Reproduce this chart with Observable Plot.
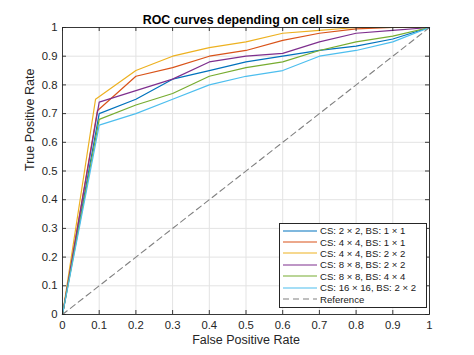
<!DOCTYPE html>
<html>
<head>
<meta charset="utf-8">
<script src="https://cdn.jsdelivr.net/npm/d3@7"></script>
<script src="https://cdn.jsdelivr.net/npm/@observablehq/plot@0.6"></script>
<style>
  html, body { margin: 0; padding: 0; background: #fff; }
  #wrap { position: relative; width: 474px; height: 355px; font-family: "Liberation Sans", Arial, sans-serif; }
  #legend { position: absolute; left: 279px; top: 223px; width: 148px; background: #fff; border: 1px solid #262626; box-sizing: border-box; padding: 1px 0 2px 0; }
  .row { display: flex; align-items: center; height: 11.4px; font-size: 9.6px; color: #1a1a1a; white-space: nowrap; }
  .row svg { margin-left: 3px; margin-right: 3px; }
</style>
</head>
<body>
<div id="wrap"></div>
<script>
// ---- data ----
const title = "ROC curves depending on cell size";
const xLabel = "False Positive Rate";
const yLabel = "True Positive Rate";
const fpr = [0, 0.1, 0.2, 0.3, 0.4, 0.5, 0.6, 0.7, 0.8, 0.9, 1];
const seriesNames = [
  "CS: 2 × 2, BS: 1 × 1",
  "CS: 4 × 4, BS: 1 × 1",
  "CS: 4 × 4, BS: 2 × 2",
  "CS: 8 × 8, BS: 2 × 2",
  "CS: 8 × 8, BS: 4 × 4",
  "CS: 16 × 16, BS: 2 × 2"
];
const seriesColors = ["#0072BD", "#D95319", "#EDB120", "#7E2F8E", "#77AC30", "#4DBEEE"];
const kneeFpr = [0.1, 0.095, 0.09, 0.1, 0.1, 0.1];
const tprCS2BS1   = [0, 0.70, 0.75, 0.82, 0.85, 0.88, 0.90, 0.92, 0.935, 0.96, 1];
const tprCS4BS1   = [0, 0.71, 0.83, 0.86, 0.90, 0.92, 0.955, 0.98, 0.995, 1, 1];
const tprCS4BS2   = [0, 0.75, 0.85, 0.90, 0.93, 0.95, 0.98, 0.99, 1, 1, 1];
const tprCS8BS2   = [0, 0.74, 0.78, 0.82, 0.88, 0.90, 0.91, 0.95, 0.98, 0.99, 1];
const tprCS8BS4   = [0, 0.68, 0.73, 0.77, 0.83, 0.86, 0.88, 0.92, 0.95, 0.97, 1];
const tprCS16BS2  = [0, 0.66, 0.70, 0.75, 0.80, 0.83, 0.85, 0.90, 0.92, 0.95, 1];
const referenceName = "Reference";
const refX = [0, 1];
const refY = [0, 1];
const xTicks = [0, 0.1, 0.2, 0.3, 0.4, 0.5, 0.6, 0.7, 0.8, 0.9, 1];
const yTicks = [0, 0.1, 0.2, 0.3, 0.4, 0.5, 0.6, 0.7, 0.8, 0.9, 1];

// ---- build table ----
const tprs = [tprCS2BS1, tprCS4BS1, tprCS4BS2, tprCS8BS2, tprCS8BS4, tprCS16BS2];
const rows = [];
tprs.forEach((t, s) => t.forEach((v, i) => rows.push({
  series: seriesNames[s], x: i === 1 ? kneeFpr[s] : fpr[i], y: v
})));
const refRows = refX.map((x, i) => ({x, y: refY[i]}));

const W = 474, H = 355, mL = 62, mR = 45, mT = 27, mB = 41;
const pw = W - mL - mR, ph = H - mT - mB;
const axisColor = "#262626";
const fmt = d => String(d);

const chart = Plot.plot({
  width: W, height: H,
  marginLeft: mL, marginRight: mR, marginTop: mT, marginBottom: mB,
  style: { fontFamily: "Liberation Sans, Arial, sans-serif", fontSize: "11px", color: axisColor, background: "#fff" },
  x: { domain: [0, 1], axis: null },
  y: { domain: [0, 1], axis: null },
  color: { domain: seriesNames, range: seriesColors },
  marks: [
    Plot.ruleX(xTicks, { x: d => d, stroke: "#e3e3e3", strokeWidth: 1 }),
    Plot.ruleY(yTicks, { y: d => d, stroke: "#e3e3e3", strokeWidth: 1 }),
    Plot.line(rows, { x: "x", y: "y", z: "series", stroke: "series", strokeWidth: 1.2 }),
    Plot.line(refRows, { x: "x", y: "y", stroke: "#808080", strokeWidth: 1.1, strokeDasharray: "6,4" }),
    Plot.frame({ stroke: axisColor, strokeWidth: 0.9 }),
    // inward ticks
    Plot.ruleX(xTicks, { x: d => d, insetTop: ph - 4, stroke: axisColor, strokeWidth: 0.9 }),
    Plot.ruleX(xTicks, { x: d => d, insetBottom: ph - 4, stroke: axisColor, strokeWidth: 0.9 }),
    Plot.ruleY(yTicks, { y: d => d, insetRight: pw - 4, stroke: axisColor, strokeWidth: 0.9 }),
    Plot.ruleY(yTicks, { y: d => d, insetLeft: pw - 4, stroke: axisColor, strokeWidth: 0.9 }),
    // tick labels
    Plot.text(xTicks, { x: d => d, frameAnchor: "bottom", dy: 14, text: fmt, fill: axisColor, fontSize: 11.3 }),
    Plot.text(yTicks, { y: d => d, frameAnchor: "left", dx: -5, textAnchor: "end", text: fmt, fill: axisColor, fontSize: 11.3 }),
    // axis labels & title
    Plot.text([xLabel], { frameAnchor: "bottom", dy: 29, text: d => d, fill: axisColor, fontSize: 12.5 }),
    Plot.text([yLabel], { frameAnchor: "left", dx: -33, rotate: -90, text: d => d, fill: axisColor, fontSize: 12.5 }),
    Plot.text([title], { frameAnchor: "top", dy: -12, text: d => d, fill: "#000", fontSize: 12.4, fontWeight: "bold" })
  ]
});

const wrap = document.getElementById("wrap");
wrap.appendChild(chart);

// legend
const legend = document.createElement("div");
legend.id = "legend";
const items = seriesNames.map((n, i) => ({ name: n, color: seriesColors[i], dash: null }))
  .concat([{ name: referenceName, color: "#808080", dash: "6,4" }]);
items.forEach(it => {
  const row = document.createElement("div");
  row.className = "row";
  row.innerHTML = `<svg width="34" height="4"><line x1="0" x2="34" y1="2" y2="2" stroke="${it.color}" stroke-width="1.2" ${it.dash ? `stroke-dasharray="${it.dash}"` : ""}/></svg><span>${it.name}</span>`;
  legend.appendChild(row);
});
wrap.appendChild(legend);
</script>
</body>
</html>
